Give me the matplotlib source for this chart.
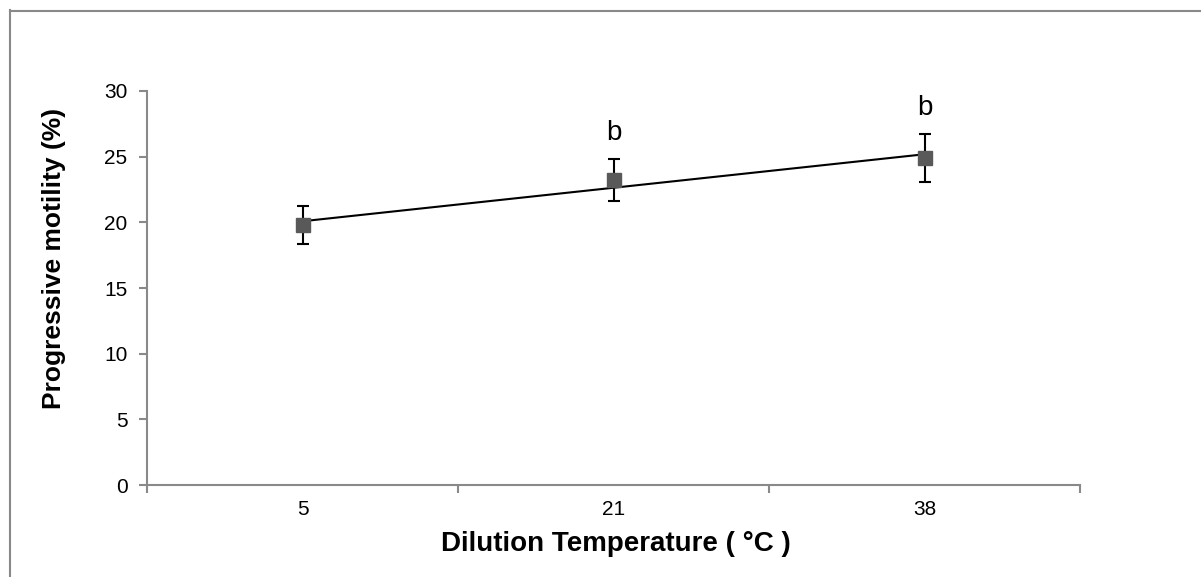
import numpy as np
import matplotlib
matplotlib.use("Agg")
import matplotlib.pyplot as plt
from matplotlib.lines import Line2D

plt.rcParams['font.family'] = ['Liberation Sans', 'DejaVu Sans']

# data
temps = ["5", "21", "38"]
motility = [19.8, 23.2, 24.9]
motility_err = [1.45, 1.6, 1.85]
letters = ["", "b", "b"]

grey = "#898989"

fig = plt.figure(figsize=(12.01, 5.77), dpi=100)
ax = fig.add_axes([0.1224, 0.1594, 0.7769, 0.6829])

x = np.arange(len(temps))

# linear trendline through the points (Excel style)
slope, icpt = np.polyfit(x, motility, 1)
ax.plot(x, slope * x + icpt, color="black", lw=1.5, zorder=2)

ax.errorbar(x, motility, yerr=motility_err, fmt="none", ecolor="black",
            elinewidth=1.5, capsize=4.5, capthick=1.5, zorder=3)
ax.plot(x, motility, ls="none", marker="s", ms=10, color="#595959", zorder=4)

for xi, yi, ei, lab in zip(x, motility, motility_err, letters):
    if lab:
        ax.text(xi, yi + ei + 1.0, lab, ha="center", va="bottom", fontsize=20)

ax.set_xlim(-0.5, len(temps) - 0.5)
ax.set_ylim(0, 30)
ax.set_yticks(np.arange(0, 31, 5))
ax.set_xticks(np.arange(-0.5, len(temps), 1.0))
ax.set_xticklabels([])
ax.set_xticks(x, minor=True)
ax.set_xticklabels(temps, minor=True)
ax.tick_params(axis="x", which="minor", length=0, pad=11, labelsize=15)
ax.tick_params(axis="x", which="major", length=6, width=1.5, color=grey)
ax.tick_params(axis="y", length=6, width=1.5, color=grey, labelsize=15, pad=8)

for side in ["top", "right"]:
    ax.spines[side].set_visible(False)
for side in ["left", "bottom"]:
    ax.spines[side].set_color(grey)
    ax.spines[side].set_linewidth(1.5)

ax.set_xlabel("Dilution Temperature ( °C )", fontsize=20, fontweight="bold")
ax.set_ylabel("Progressive motility (%)", fontsize=19, fontweight="bold")
ax.xaxis.set_label_coords(0.503, -0.117)
ax.yaxis.set_label_coords(-0.087, 0.574)

# chart area border (runs off the right and bottom edges)
fig.add_artist(Line2D([9.5 / 1201, 9.5 / 1201], [1 - 10 / 577, -0.01],
                      transform=fig.transFigure, color=grey, lw=1.5))
fig.add_artist(Line2D([9.5 / 1201, 1.01], [1 - 10.5 / 577, 1 - 10.5 / 577],
                      transform=fig.transFigure, color=grey, lw=1.5))

fig.savefig("out.png", dpi=100, facecolor="white")
